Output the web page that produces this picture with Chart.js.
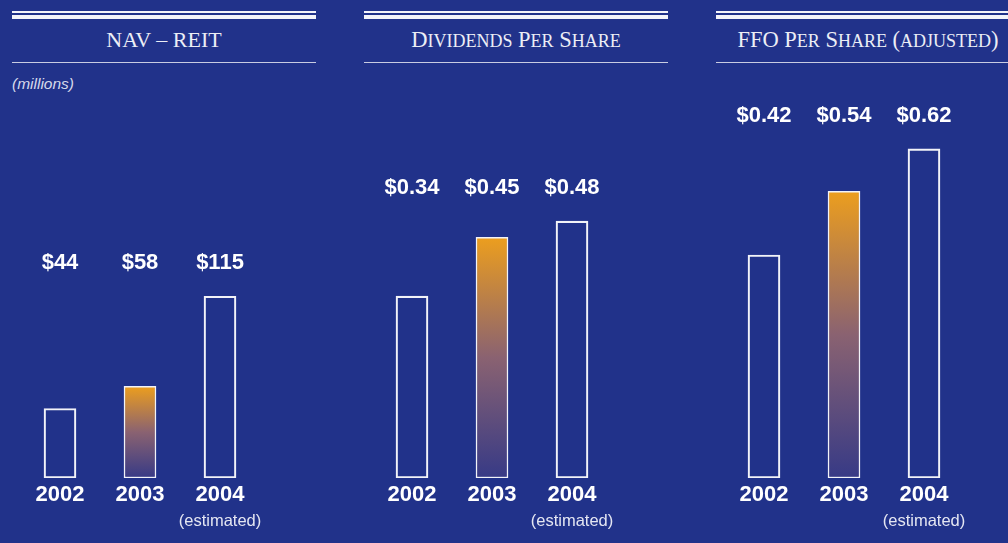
<!doctype html>
<html>
<head>
  <meta charset="utf-8" />
  <title>NAV, Dividends and FFO</title>
  <script src="https://cdn.jsdelivr.net/npm/chart.js"></script>
  <style>
    html, body { margin: 0; padding: 0; }
    body { width: 1008px; height: 543px; background: #21328a; overflow: hidden; position: relative; font-family: "Liberation Sans", Arial, sans-serif; }
    .panel { position: absolute; top: 0; width: 304px; height: 543px; }
    .rule-thin { position: absolute; left: 0; right: 0; top: 11px; height: 1.5px; background: #f4f4fa; }
    .rule-thick { position: absolute; left: 0; right: 0; top: 15px; height: 4px; background: #f4f4fa; }
    .rule-under { position: absolute; left: 0; right: 0; top: 61.5px; height: 1.5px; background: #c9cce2; }
    .title { position: absolute; left: 0; right: 0; top: 26px; text-align: center; white-space: nowrap;
             font-family: "Liberation Serif", "DejaVu Serif", serif; font-size: 22.5px; line-height: 28px; color: #eceef6; }
    .title .sc { font-size: 18px; }
    .note { position: absolute; left: 0; top: 75px; font-style: italic; font-size: 15.5px; color: #d6d9ea; }
    canvas { position: absolute; left: 0; top: 100px; }
  </style>
</head>
<body>
  <div class="panel" style="left:12px">
    <div class="rule-thin"></div><div class="rule-thick"></div>
    <div class="title" style="font-size:22px">NAV – REIT</div>
    <div class="rule-under"></div>
    <div class="note">(millions)</div>
    <canvas id="chartNav" width="256" height="443"></canvas>
  </div>
  <div class="panel" style="left:364px">
    <div class="rule-thin"></div><div class="rule-thick"></div>
    <div class="title">D<span class="sc">IVIDENDS</span> P<span class="sc">ER</span> S<span class="sc">HARE</span></div>
    <div class="rule-under"></div>
    <canvas id="chartDiv" width="256" height="443"></canvas>
  </div>
  <div class="panel" style="left:716px">
    <div class="rule-thin"></div><div class="rule-thick"></div>
    <div class="title">FFO P<span class="sc">ER</span> S<span class="sc">HARE</span> (<span class="sc">ADJUSTED</span>)</div>
    <div class="rule-under"></div>
    <canvas id="chartFfo" width="256" height="443"></canvas>
  </div>

  <script>
    const years = ["2002", "2003", "2004"];
    const yearNotes = ["", "", "(estimated)"];
    const navValues = [44, 58, 115];
    const dividendValues = [0.34, 0.45, 0.48];
    const ffoValues = [0.42, 0.54, 0.62];

    // labels drawn above the bars, year labels below
    const barLabels = {
      id: "barLabels",
      afterDatasetsDraw(chart, args, opts) {
        const ctx = chart.ctx;
        const x = chart.scales.x, y = chart.scales.y;
        const values = chart.data.datasets[0].data;
        const labelY = y.getPixelForValue(Math.max(...values)) - 33;
        ctx.save();
        ctx.textAlign = "center";
        ctx.textBaseline = "middle";
        ctx.fillStyle = "#ffffff";
        values.forEach((v, i) => {
          const cx = x.getPixelForValue(i);
          ctx.font = "bold 22px 'Liberation Sans', Arial, sans-serif";
          ctx.fillText(opts.format(v), cx, labelY);
          ctx.fillText(chart.data.labels[i], cx, chart.chartArea.bottom + 17);
          if (yearNotes[i]) {
            ctx.font = "16.5px 'Liberation Sans', Arial, sans-serif";
            ctx.fillStyle = "#e4e6f2";
            ctx.fillText(yearNotes[i], cx, chart.chartArea.bottom + 43);
            ctx.fillStyle = "#ffffff";
          }
        });
        ctx.restore();
      }
    };

    function barFill(context) {
      if (context.dataIndex !== 1) return "rgba(0,0,0,0)";
      const chart = context.chart;
      if (!chart.chartArea) return "#e89c20";
      const top = chart.scales.y.getPixelForValue(context.raw);
      const bottom = chart.chartArea.bottom;
      const g = chart.ctx.createLinearGradient(0, top, 0, bottom);
      g.addColorStop(0, "#ec9e1e");
      g.addColorStop(0.5, "#8a6271");
      g.addColorStop(1, "#373a86");
      return g;
    }

    function renderBar(canvasId, values, max, format) {
      const ctx = document.getElementById(canvasId).getContext("2d");
      return new Chart(ctx, {
        type: "bar",
        data: {
          labels: years,
          datasets: [{
            data: values,
            backgroundColor: barFill,
            borderColor: "#f2f3f8",
            borderWidth: 1.5,
            borderSkipped: false,
            barThickness: 32
          }]
        },
        options: {
          responsive: false,
          animation: false,
          layout: { padding: { left: 8, right: 8, top: 0, bottom: 65 } },
          scales: {
            x: { display: false },
            y: { display: false, min: 0, max: max }
          },
          plugins: {
            legend: { display: false },
            tooltip: { enabled: false },
            barLabels: { format }
          }
        },
        plugins: [barLabels]
      });
    }

    renderBar("chartNav", navValues, 239.2, v => "$" + v);
    renderBar("chartDiv", dividendValues, 0.7065, v => "$" + v.toFixed(2));
    renderBar("chartFfo", ffoValues, 0.712, v => "$" + v.toFixed(2));
  </script>
</body>
</html>
